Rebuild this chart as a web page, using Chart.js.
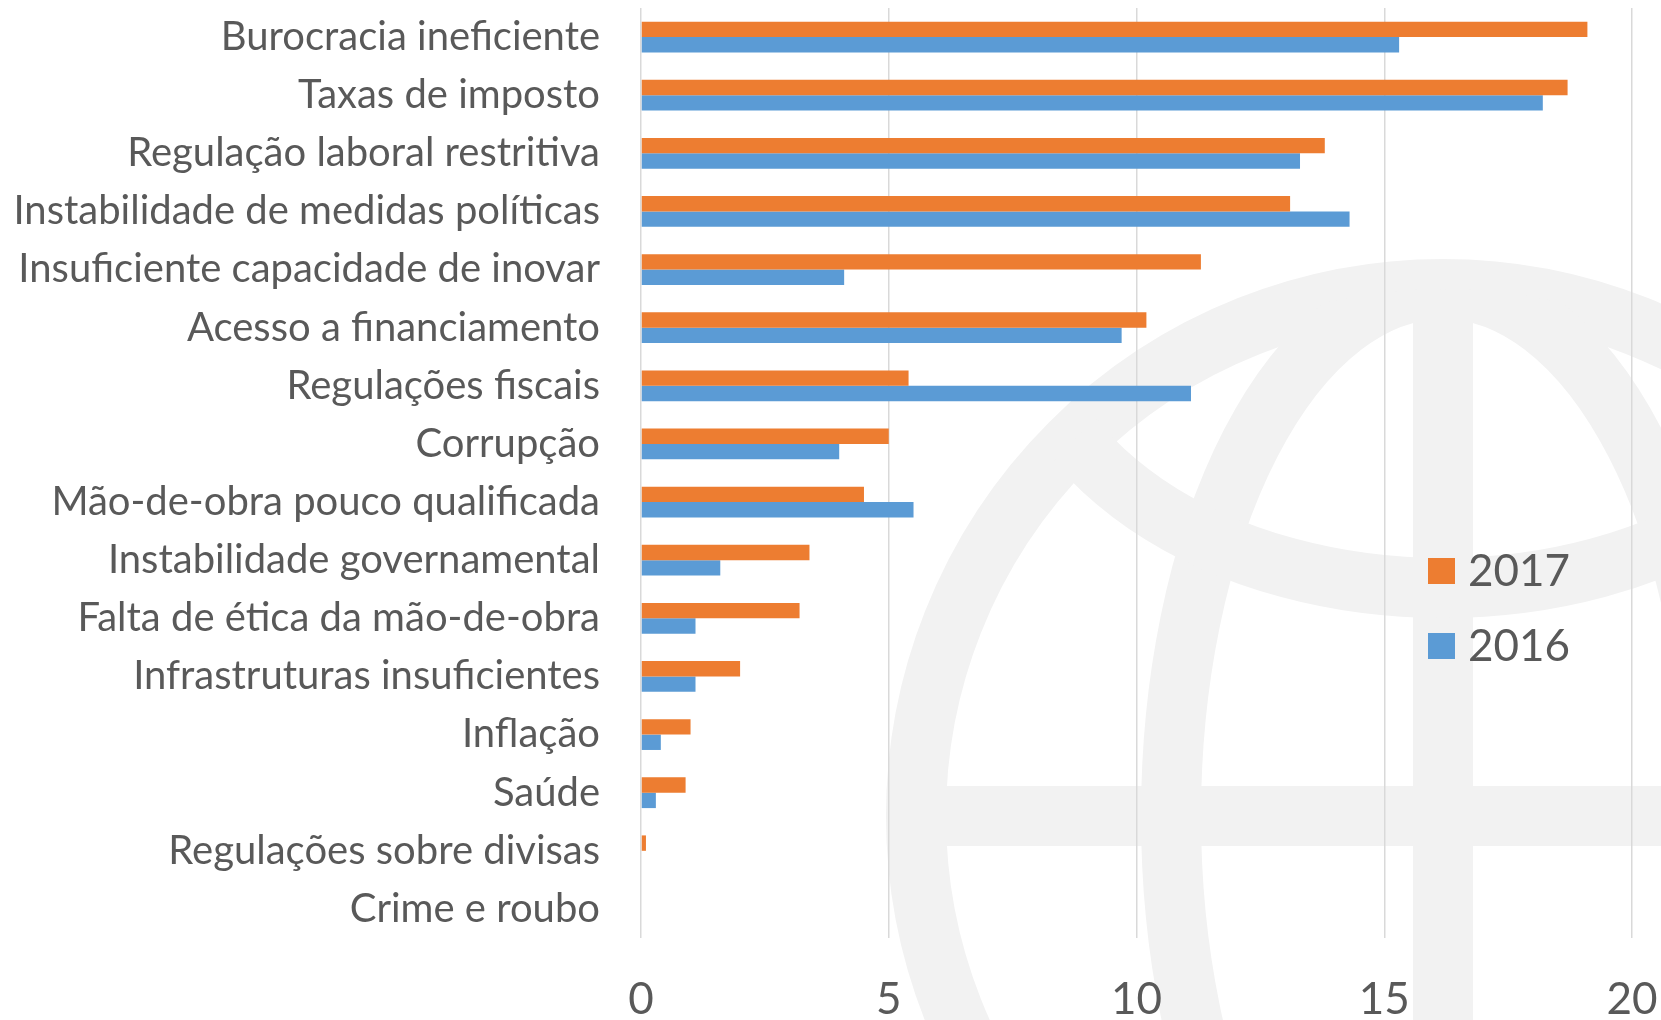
<!DOCTYPE html>
<html>
<head>
<meta charset="utf-8">
<script src="https://cdn.jsdelivr.net/npm/chart.js@4"></script>
<style>
  html, body { margin: 0; padding: 0; background: #fff; }
  #wrap { width: 1661px; height: 1020px; position: relative; }
</style>
</head>
<body>
<div id="wrap"><canvas id="myChart"></canvas></div>
<script>
var categorias = [
	"Burocracia ineficiente",
	"Taxas de imposto",
	"Regulação laboral restritiva",
	"Instabilidade de medidas políticas",
	"Insuficiente capacidade de inovar",
	"Acesso a financiamento",
	"Regulações fiscais",
	"Corrupção",
	"Mão-de-obra pouco qualificada",
	"Instabilidade governamental",
	"Falta de ética da mão-de-obra",
	"Infrastruturas insuficientes",
	"Inflação",
	"Saúde",
	"Regulações sobre divisas",
	"Crime e roubo"
];
var valores2017 = [19.1, 18.7, 13.8, 13.1, 11.3, 10.2, 5.4, 5.0, 4.5, 3.4, 3.2, 2.0, 1.0, 0.9, 0.1, 0];
var valores2016 = [15.3, 18.2, 13.3, 14.3, 4.1, 9.7, 11.1, 4.0, 5.5, 1.6, 1.1, 1.1, 0.4, 0.3, 0, 0];
var ticksX = [0, 5, 10, 15, 20];

var textColor = "#595959";
Chart.defaults.font.family = "Lato";

// globo cinzento de fundo
var globo = {
	id: "globo",
	beforeDraw: function(chart) {
		var ctx = chart.ctx;
		var cx = 1443, cy = 816, r = 527;
		ctx.save();
		ctx.strokeStyle = "#f2f2f2";
		ctx.lineWidth = 60;
		ctx.beginPath();
		ctx.arc(cx, cy, r, 0, Math.PI * 2);
		ctx.stroke();
		ctx.beginPath();
		ctx.arc(cx, cy, r, 0, Math.PI * 2);
		ctx.clip();
		ctx.beginPath();
		ctx.ellipse(cx, cy, 272, r, 0, 0, Math.PI * 2);
		ctx.stroke();
		ctx.beginPath();
		ctx.moveTo(cx, cy - r); ctx.lineTo(cx, cy + r);
		ctx.moveTo(cx - r, cy); ctx.lineTo(cx + r, cy);
		ctx.stroke();
		ctx.beginPath();
		ctx.ellipse(cx, 300, 421, 288, 0, 0, Math.PI);
		ctx.stroke();
		ctx.restore();
	}
};

// legenda dentro do grafico
var legenda = {
	id: "legenda",
	afterDraw: function(chart) {
		var ctx = chart.ctx;
		var x = 1428, y = 571;
		ctx.save();
		ctx.font = "44px Lato";
		ctx.textBaseline = "middle";
		chart.data.datasets.forEach(function(ds, i) {
			var yy = y + i * 75;
			ctx.fillStyle = ds.backgroundColor;
			ctx.fillRect(x, yy - 13, 27, 26);
			ctx.fillStyle = textColor;
			ctx.fillText(ds.label, x + 40, yy + 1);
		});
		ctx.restore();
	}
};

var ctx = document.getElementById("myChart");
var myChart = new Chart(ctx, {
	type: "bar",
	data: {
		labels: categorias,
		datasets: [
			{
				label: "2017",
				data: valores2017,
				backgroundColor: "#ED7D31",
				categoryPercentage: 0.53,
				barPercentage: 1.0
			},
			{
				label: "2016",
				data: valores2016,
				backgroundColor: "#5B9BD5",
				categoryPercentage: 0.53,
				barPercentage: 1.0
			}
		]
	},
	options: {
		indexAxis: "y",
		responsive: true,
		maintainAspectRatio: false,
		animation: false,
		layout: { padding: { top: 8, right: 29, left: 0, bottom: 0 } },
		plugins: {
			legend: { display: false },
			tooltip: { enabled: false }
		},
		scales: {
			x: {
				min: 0,
				max: 20,
				afterBuildTicks: function(scale) {
					scale.ticks = ticksX.map(function(v) { return { value: v }; });
				},
				afterFit: function(scale) {
					scale.height = 82;
					scale.paddingLeft = 0; scale.paddingRight = 0;
					scale.paddingTop = 0; scale.paddingBottom = 0;
				},
				grid: { color: "#d9d9d9", lineWidth: 1.5, drawTicks: false },
				border: { display: false },
				ticks: { color: textColor, font: { size: 44 }, padding: 35, maxRotation: 0 }
			},
			y: {
				afterFit: function(scale) {
					scale.width = 641;
					scale.paddingLeft = 0; scale.paddingRight = 0;
					scale.paddingTop = 0; scale.paddingBottom = 0;
				},
				grid: { display: false, drawTicks: false },
				border: { display: false },
				ticks: { color: textColor, font: { size: 40 }, padding: 41, autoSkip: false }
			}
		}
	},
	plugins: [globo, legenda]
});
</script>
</body>
</html>
